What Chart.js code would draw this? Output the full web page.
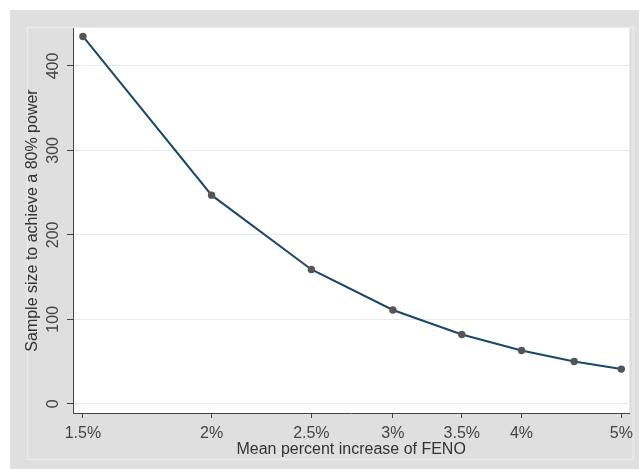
<!DOCTYPE html>
<html>
<head>
<meta charset="utf-8">
<script src="https://cdn.jsdelivr.net/npm/chart.js@4.4.0/dist/chart.umd.min.js"></script>
<style>
  html, body { margin: 0; padding: 0; background: #ffffff; }
  #wrap { width: 639px; height: 469px; position: relative; }
</style>
</head>
<body>
<div id="wrap"><canvas id="c" width="639" height="469"></canvas></div>
<script>
// Data
const increases = [1.5, 2, 2.5, 3, 3.5, 4, 4.5, 5];          // mean percent increase of FENO (%)
const sampleSizes = [435, 247, 159, 111, 82, 63, 50, 41];     // sample size for 80% power
const xTickValues = [1.5, 2, 2.5, 3, 3.5, 4, 5];
const yTickValues = [0, 100, 200, 300, 400];
const xTitle = 'Mean percent increase of FENO';
const yTitle = 'Sample size to achieve a 80% power';

const FONT = '"Liberation Sans", Arial, sans-serif';

const bgPlugin = {
  id: 'stataBg',
  beforeDraw(chart) {
    const ctx = chart.ctx;
    const a = chart.chartArea;
    ctx.save();
    ctx.fillStyle = '#ffffff';
    ctx.fillRect(0, 0, chart.width, chart.height);
    ctx.fillStyle = '#dfdfdf';
    ctx.fillRect(10, 10, chart.width - 10, chart.height - 10);
    ctx.strokeStyle = '#ebebeb';
    ctx.lineWidth = 1.5;
    ctx.strokeRect(27.5, 27.5, 606, 432);
    ctx.fillStyle = '#ffffff';
    ctx.fillRect(a.left, a.top, a.right - a.left, a.bottom - a.top);
    ctx.restore();
  }
};

new Chart(document.getElementById('c'), {
  type: 'line',
  data: {
    datasets: [{
      data: increases.map((x, i) => ({ x: x, y: sampleSizes[i] })),
      borderColor: '#1a476f',
      borderWidth: 2,
      tension: 0,
      pointRadius: 3.7,
      pointBackgroundColor: '#555555',
      pointBorderColor: '#555555',
      pointBorderWidth: 0
    }]
  },
  options: {
    responsive: false,
    animation: false,
    devicePixelRatio: 1,
    layout: { padding: { top: 28, right: 9, bottom: 0, left: 0 } },
    plugins: { legend: { display: false }, tooltip: { enabled: false } },
    scales: {
      x: {
        type: 'logarithmic',
        bounds: 'data',
        min: 1.467,
        max: 5.09,
        afterBuildTicks: (s) => { s.ticks = xTickValues.map(v => ({ value: v })); },
        afterFit: (s) => { s.height = 56; },
        grid: { drawOnChartArea: false, drawTicks: true, tickLength: 5, tickColor: '#444444', tickWidth: 1 },
        border: { display: true, color: '#444444', width: 1 },
        ticks: {
          color: '#444444',
          font: { family: FONT, size: 16 },
          padding: 6,
          maxRotation: 0,
          minRotation: 0,
          autoSkip: false,
          callback: (v) => v + '%'
        },
        title: {
          display: true,
          text: xTitle,
          color: '#333333',
          font: { family: FONT, size: 16 },
          padding: { top: 0, bottom: 10 }
        }
      },
      y: {
        type: 'linear',
        bounds: 'data',
        min: -11,
        max: 445,
        afterBuildTicks: (s) => { s.ticks = yTickValues.map(v => ({ value: v })); },
        afterFit: (s) => { s.width = 73; },
        grid: { color: '#e3edf1', lineWidth: 1, drawTicks: true, tickLength: 6, tickColor: '#444444' },
        border: { display: true, color: '#444444', width: 1 },
        ticks: {
          color: '#444444',
          font: { family: FONT, size: 16 },
          padding: 0,
          minRotation: 90,
          maxRotation: 90,
          crossAlign: 'center',
          autoSkip: false
        },
        title: {
          display: true,
          text: yTitle,
          color: '#333333',
          font: { family: FONT, size: 16 },
          padding: { top: 23, bottom: 0 }
        }
      }
    }
  },
  plugins: [bgPlugin]
});
</script>
</body>
</html>
